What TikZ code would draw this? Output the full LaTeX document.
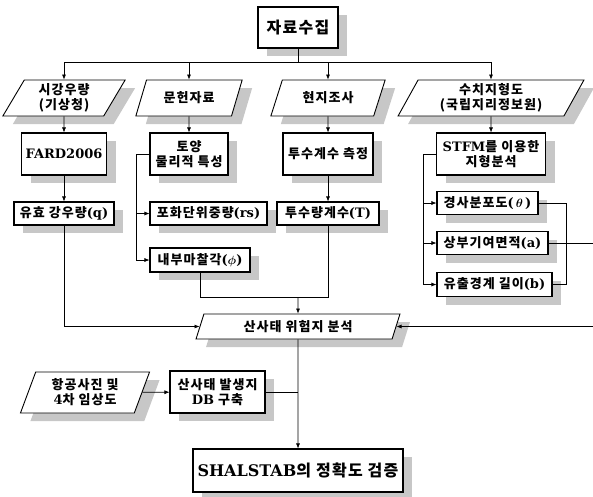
\documentclass[tikz,border=0pt]{standalone}
\usepackage{amsmath}
\usepackage{fontspec}
\setmainfont{Noto Sans CJK KR}[LetterSpace=8]
\newfontfamily\lt{DejaVu Serif}
\usepackage{tikz}
\usetikzlibrary{shapes.geometric, arrows.meta, shadows}

\begin{document}
\begin{tikzpicture}[x=1pt, y=-1pt, font=\bfseries\fontsize{13}{15}\selectfont,
  box/.style={rectangle, draw, line width=1.1pt, fill=white, align=center, inner sep=1pt,
    drop shadow={shadow xshift=9pt, shadow yshift=-8pt, fill=black!22, opacity=1}},
  para/.style={trapezium, trapezium left angle=#1, trapezium right angle=180-#1,
    trapezium stretches=true, draw, line width=0.9pt, fill=white, align=center, inner sep=1pt,
    drop shadow={shadow xshift=10pt, shadow yshift=-8pt, fill=black!22, opacity=1}},
  link/.style={line width=0.6pt},
  arr/.style={link, -{Latex[length=5pt,width=4pt]}}]

\useasboundingbox (0,0) rectangle (593,496);

% top
\node[box, minimum width=80pt, minimum height=41pt, font=\bfseries\fontsize{16}{18}\selectfont] (collect) at (298,27.5) {자료수집};

% data sources
\node[para=65, minimum width=123pt, minimum height=36pt] (rainsrc) at (64,98) {시강우량\\(기상청)};
\node[para=65, minimum width=107pt, minimum height=36pt] (docs) at (189,98) {문헌자료};
\node[para=65, minimum width=115pt, minimum height=36pt] (field) at (328,98) {현지조사};
\node[para=65, minimum width=186pt, minimum height=36pt] (dem) at (491,98) {수치지형도\\(국립지리정보원)};

% processing
\node[box, minimum width=85pt, minimum height=42pt] (fard) at (64,154) {{\lt FARD2006}};
\node[box, minimum width=78pt, minimum height=42pt] (soil) at (189,154) {토양\\물리적 특성};
\node[box, minimum width=90pt, minimum height=42pt] (perm) at (328,154) {투수계수 측정};
\node[box, minimum width=109pt, minimum height=42pt] (stfm) at (491,154) {{\lt STFM}를 이용한\\지형분석};

% parameters
\node[box, minimum width=100pt, minimum height=23pt] (rain) at (64,213.5) {유효 강우량{\lt (q)}};
\node[box, minimum width=117pt, minimum height=23pt] (gamma) at (208.5,213.5) {포화단위중량{\lt (rs)}};
\node[box, minimum width=102pt, minimum height=23pt] (trans) at (328,213.5) {투수량계수{\lt (T)}};
\node[box, minimum width=100pt, minimum height=24pt] (phi) at (200,260) {내부마찰각{\lt (}$\boldsymbol{\phi}${\lt )}};
\node[box, minimum width=101pt, minimum height=23pt] (slope) at (487.5,203) {경사분포도{\lt (\,}$\boldsymbol{\theta}${\lt \,)}};
\node[box, minimum width=111pt, minimum height=23pt] (area) at (492.5,243) {상부기여면적{\lt (a)}};
\node[box, minimum width=115pt, minimum height=24pt] (len) at (494.5,284.5) {유출경계 길이{\lt (b)}};

% analysis and validation
\node[para=72, minimum width=204pt, minimum height=25pt] (hazard) at (298,326.5) {산사태 위험지 분석};
\node[para=70, minimum width=130pt, minimum height=41pt] (aerial) at (85,392.5) {항공사진 및\\{\lt 4}차 임상도};
\node[box, minimum width=95pt, minimum height=42pt] (db) at (217.5,392) {산사태 발생지\\{\lt DB} 구축};
\node[box, minimum width=210pt, minimum height=43pt, font=\bfseries\fontsize{16}{18}\selectfont] (shal) at (298,470.5) {{\lt SHALSTAB}의 정확도 검증};

% helper points
\coordinate (bus) at (298,62);
\coordinate (soilx) at (136,154);
\coordinate (stfmx) at (423,154);
\coordinate (join) at (298,297);
\coordinate (edgeA) at (593,243);
\coordinate (edgeB) at (593,326.5);

% connectors
\draw[link] (collect) -- (bus);
\draw[arr] (bus) -| (rainsrc);
\draw[arr] (bus) -| (docs);
\draw[arr] (bus) -| (field);
\draw[arr] (bus) -| (dem);

\draw[arr] (rainsrc) -- (fard);
\draw[arr] (docs) -- (soil);
\draw[arr] (field) -- (perm);
\draw[arr] (dem) -- (stfm);
\draw[arr] (fard) -- (rain);
\draw[arr] (perm) -- (trans);

\draw[link] (soil.west) -- (soilx);
\draw[arr] (soilx) |- (gamma);
\draw[arr] (soilx) |- (phi);

\draw[link] (stfm.west) -- (stfmx);
\draw[arr] (stfmx) |- (slope);
\draw[arr] (stfmx) |- (area);
\draw[arr] (stfmx) |- (len);
\draw[link] (slope.east) -- ++(28,0) |- (len.east);
\draw[link] (area.east) -- (edgeA);
\draw[arr] (edgeB) -- (hazard);

\draw[arr] (rain) |- (hazard);
\draw[link] (phi) |- (join);
\draw[link] (trans) |- (join);
\draw[arr] (join) -- (hazard);

\draw[arr] (hazard) -- (shal);
\draw[arr] (aerial) -- (db);
\draw[link] (db) -- (db -| hazard);
\end{tikzpicture}
\end{document}
